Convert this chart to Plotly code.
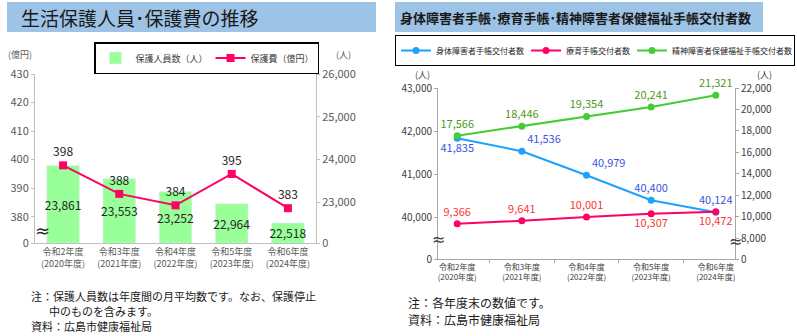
import plotly.graph_objects as go

# ---------------- data ----------------
cats_left = ["令和2年度<br>(2020年度)", "令和3年度<br>(2021年度)", "令和4年度<br>(2022年度)",
             "令和5年度<br>(2023年度)", "令和6年度<br>(2024年度)"]
persons = [23861, 23553, 23252, 22964, 22518]          # 保護人員数（人）
cost = [398, 388, 384, 395, 383]                       # 保護費（億円）

cats_right = ["令和2年度<br>(2020年度)", "令和3年度<br>(2021年度)", "令和4年度<br>(2022年度)",
              "令和5年度<br>(2023年度)", "令和6年度<br>(2024年度)"]
physical = [41835, 41536, 40979, 40400, 40124]         # 身体障害者手帳交付者数
ryoiku = [9366, 9641, 10001, 10307, 10472]             # 療育手帳交付者数
mental = [17566, 18446, 19354, 20241, 21321]           # 精神障害者保健福祉手帳交付者数

left_ticks_cost = [380, 390, 400, 410, 420, 430]
left_ticks_persons = [23000, 24000, 25000, 26000]
right_ticks_left = [40000, 41000, 42000, 43000]
right_ticks_right = [8000, 10000, 12000, 14000, 16000, 18000, 20000, 22000]

# ---------------- geometry helpers ----------------
W, H = 797, 336
def px(x): return x / W
def py(y): return 1 - y / H

FONT = "Noto Sans CJK JP"
TICKC = "#595959"
AXC = "#BFBFBF"

# broken axis floors (value at bottom of plot area)
cost_floor = 370.8
persons_floor = 22049
phys_floor = 39033
right_floor = 6056

fig = go.Figure()

# ---------------- left chart ----------------
fig.add_trace(go.Bar(
    x=cats_left, y=[v - persons_floor for v in persons], base=persons_floor,
    text=[f"{v:,}" for v in persons], textposition="inside", insidetextanchor="middle",
    textangle=0, constraintext="none",
    textfont=dict(size=12, color="#262626", family=FONT),
    marker=dict(color="#99FF99"), width=0.58,
    name="保護人員数（人）", legendwidth=70,
    xaxis="x", yaxis="y", legend="legend", cliponaxis=False,
))
fig.add_trace(go.Scatter(
    x=cats_left, y=cost, mode="lines+markers+text",
    text=[str(v) for v in cost], textposition="top center",
    textfont=dict(size=12, color="#262626", family=FONT),
    line=dict(color="#FF0066", width=2), marker=dict(symbol="square", size=8, color="#FF0066"),
    name="保護費（億円）", legendwidth=62,
    xaxis="x", yaxis="y2", legend="legend", cliponaxis=False,
))

# ---------------- right chart ----------------
fig.add_trace(go.Scatter(
    x=cats_right, y=physical, mode="lines+markers+text",
    text=[f"{v:,}" for v in physical],
    textposition=["bottom center", "top right", "top right", "top center", "top center"],
    textfont=dict(size=11, color="#3B55E0", family=FONT),
    line=dict(color="#1EA0FF", width=2), marker=dict(size=7, color="#1EA0FF"),
    name="身体障害者手帳交付者数", legendwidth=85,
    xaxis="x2", yaxis="y3", legend="legend2", cliponaxis=False,
))
fig.add_trace(go.Scatter(
    x=cats_right, y=ryoiku, mode="lines+markers+text",
    text=[f"{v:,}" for v in ryoiku],
    textposition=["top center", "top center", "top center", "bottom center", "bottom center"],
    textfont=dict(size=11, color="#FF3333", family=FONT),
    line=dict(color="#FF0066", width=2), marker=dict(size=7, color="#FF0066"),
    name="療育手帳交付者数", legendwidth=61,
    xaxis="x2", yaxis="y4", legend="legend2", cliponaxis=False,
))
fig.add_trace(go.Scatter(
    x=cats_right, y=mental, mode="lines+markers+text",
    text=[f"{v:,}" for v in mental], textposition="top center",
    textfont=dict(size=11, color="#4C9A1E", family=FONT),
    line=dict(color="#44CC33", width=2), marker=dict(size=7, color="#44CC33"),
    name="精神障害者保健福祉手帳交付者数", legendwidth=117,
    xaxis="x2", yaxis="y4", legend="legend2", cliponaxis=False,
))

# ---------------- axes ----------------
fig.update_layout(
    xaxis=dict(domain=[px(35), px(316)], anchor="y", showline=True, linecolor=AXC,
               tickangle=0, tickfont=dict(size=9, color=TICKC, family=FONT), ticks="", showgrid=False),
    yaxis=dict(domain=[py(243), py(74)], anchor="x", side="right", range=[persons_floor, 26000],
               tickvals=[persons_floor] + left_ticks_persons,
               ticktext=["0"] + [f"{v:,}" for v in left_ticks_persons],
               showline=True, linecolor=AXC, ticks="outside", ticklen=3, tickcolor=AXC,
               tickfont=dict(size=11, color=TICKC, family=FONT), showgrid=False, zeroline=False),
    yaxis2=dict(overlaying="y", side="left", anchor="x", range=[cost_floor, 430],
                tickvals=[cost_floor] + left_ticks_cost,
                ticktext=["0"] + [str(v) for v in left_ticks_cost],
                showline=True, linecolor=AXC, ticks="outside", ticklen=3, tickcolor=AXC,
                tickfont=dict(size=11, color=TICKC, family=FONT), showgrid=False, zeroline=False),
    xaxis2=dict(domain=[px(438), px(735)], anchor="y3", showline=True, linecolor="#A6A6A6",
                tickangle=0, tickfont=dict(size=8, color="#404040", family=FONT), ticks="outside",
                tickson="boundaries", ticklen=3, tickcolor="#A6A6A6", showgrid=False),
    yaxis3=dict(domain=[py(259.3), py(88)], anchor="x2", range=[phys_floor, 43000],
                tickvals=[phys_floor] + right_ticks_left,
                ticktext=["0"] + [f"{v:,}" for v in right_ticks_left],
                showline=True, linecolor="#A6A6A6", ticks="outside", ticklen=3, tickcolor="#A6A6A6",
                tickfont=dict(size=10, color="#404040", family=FONT), showgrid=False, zeroline=False),
    yaxis4=dict(overlaying="y3", side="right", anchor="x2", range=[right_floor, 22000],
                tickvals=[right_floor] + right_ticks_right,
                ticktext=["0"] + [f"{v:,}" for v in right_ticks_right],
                showline=True, linecolor="#A6A6A6", ticks="outside", ticklen=3, tickcolor="#A6A6A6",
                tickfont=dict(size=10, color="#404040", family=FONT), showgrid=False, zeroline=False),
    bargap=0.4,
)

# ---------------- legends ----------------
fig.update_layout(
    legend=dict(x=px(94), y=py(42), xanchor="left", yanchor="top", orientation="h",
                bordercolor="#000000", borderwidth=1.5, bgcolor="white",
                font=dict(size=9, color="#404040", family=FONT), itemwidth=30),
    legend2=dict(x=px(395), y=py(35), xanchor="left", yanchor="top", orientation="h",
                 bordercolor="#000000", borderwidth=1, bgcolor="white",
                 font=dict(size=8, color="#262626", family=FONT), itemwidth=30),
)

# ---------------- decorations ----------------
shapes = [
    dict(type="rect", xref="paper", yref="paper", x0=px(7), x1=px(376), y0=py(32), y1=py(2),
         fillcolor="#9DC3E6", line=dict(width=0), layer="below"),
    dict(type="rect", xref="paper", yref="paper", x0=px(395), x1=px(763), y0=py(32), y1=py(2),
         fillcolor="#9DC3E6", line=dict(width=0), layer="below"),
]
annos = [
    dict(text="生活保護人員･保護費の推移", x=px(19), y=py(17), xanchor="left", yanchor="middle",
         font=dict(size=19, color="#1a1a1a", family=FONT)),
    dict(text="<b>身体障害者手帳･療育手帳･精神障害者保健福祉手帳交付者数</b>", x=px(398), y=py(17),
         xanchor="left", yanchor="middle", font=dict(size=13, color="#1a1a1a", family=FONT)),
    dict(text="(億円)", x=px(6), y=py(55), xanchor="left", yanchor="middle",
         font=dict(size=9, color=TICKC, family=FONT)),
    dict(text="(人)", x=px(334), y=py(55), xanchor="left", yanchor="middle",
         font=dict(size=9, color=TICKC, family=FONT)),
    dict(text="(人)", x=px(413), y=py(74), xanchor="left", yanchor="middle",
         font=dict(size=9, color="#404040", family=FONT)),
    dict(text="(人)", x=px(755), y=py(74), xanchor="left", yanchor="middle",
         font=dict(size=9, color="#404040", family=FONT)),
    dict(text="≈", x=px(42), y=py(230), xanchor="center", yanchor="middle",
         font=dict(size=18, color="#262626", family="DejaVu Sans")),
    dict(text="≈", x=px(438), y=py(239), xanchor="center", yanchor="middle",
         font=dict(size=16, color="#404040", family="DejaVu Sans")),
    dict(text="≈", x=px(735), y=py(241), xanchor="center", yanchor="middle",
         font=dict(size=16, color="#404040", family="DejaVu Sans")),
    dict(text="注：保護人員数は年度間の月平均数です。なお、保護停止", x=px(29), y=py(296),
         xanchor="left", yanchor="middle", font=dict(size=11, color="#1a1a1a", family=FONT)),
    dict(text="中のものを含みます。", x=px(47), y=py(311), xanchor="left", yanchor="middle",
         font=dict(size=11, color="#1a1a1a", family=FONT)),
    dict(text="資料：広島市健康福祉局", x=px(29), y=py(326), xanchor="left", yanchor="middle",
         font=dict(size=11, color="#1a1a1a", family=FONT)),
    dict(text="注：各年度末の数値です。", x=px(406), y=py(302), xanchor="left", yanchor="middle",
         font=dict(size=12, color="#1a1a1a", family=FONT)),
    dict(text="資料：広島市健康福祉局", x=px(406), y=py(319), xanchor="left", yanchor="middle",
         font=dict(size=12, color="#1a1a1a", family=FONT)),
]
for a in annos:
    a.update(xref="paper", yref="paper", showarrow=False)

fig.update_layout(
    width=W, height=H, margin=dict(l=0, r=0, t=0, b=0, autoexpand=False),
    paper_bgcolor="white", plot_bgcolor="white",
    shapes=shapes, annotations=annos, font=dict(family=FONT),
)

fig.write_html("out.html")
